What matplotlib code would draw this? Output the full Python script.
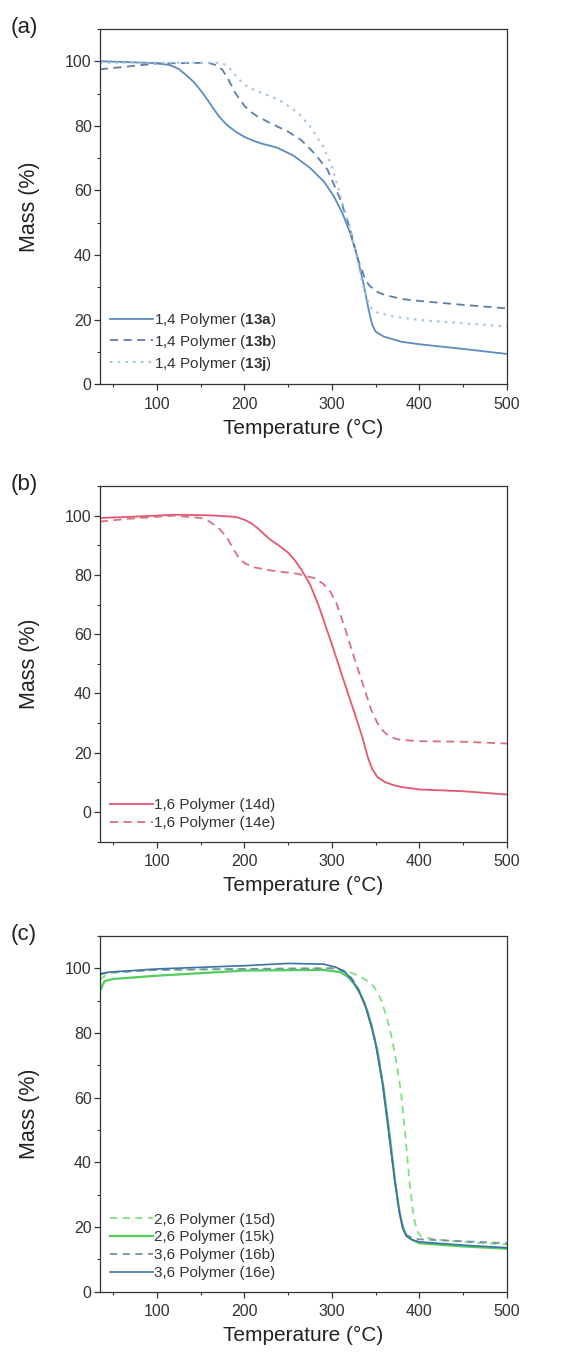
import numpy as np
import matplotlib
matplotlib.use('Agg')
import matplotlib.pyplot as plt
from matplotlib.ticker import MultipleLocator

plt.rcParams['font.family'] = ['Liberation Sans', 'DejaVu Sans']
plt.rcParams['mathtext.fontset'] = 'custom'
plt.rcParams['mathtext.bf'] = 'Liberation Sans:bold'
plt.rcParams['mathtext.rm'] = 'Liberation Sans'

# ---- panel (a): 1,4 polymers ----
t_13a = [35, 60, 100, 115, 125, 134, 142, 150, 158, 165, 172, 180, 190, 200, 210, 220,
         237, 256, 275, 291, 302, 312, 321, 329, 336, 342, 346, 350, 359, 379, 400, 455, 500]
m_13a = [100, 99.8, 99.4, 98.8, 97.6, 95.6, 93.6, 91, 88, 85.2, 82.6, 80.3, 78.2, 76.6,
         75.4, 74.5, 73.3, 70.8, 67, 62.7, 58.3, 53, 46.7, 39.5, 31.3, 23, 18.5, 16.3,
         14.8, 13.2, 12.4, 10.8, 9.4]
t_13b = [35, 60, 100, 150, 160, 168, 175, 182, 190, 200, 208, 215, 230, 250, 265, 280,
         295, 310, 320, 330, 337, 342, 350, 360, 380, 400, 450, 500]
m_13b = [97.5, 98.2, 99.3, 99.5, 99.4, 98.8, 97.3, 94.2, 90, 86.2, 84.2, 82.9, 80.8, 78.2,
         75.6, 71.5, 66.4, 57, 48.8, 38.5, 33.3, 30.8, 28.8, 27.7, 26.4, 25.8, 24.6, 23.5]
t_13j = [35, 100, 170, 177, 183, 190, 197, 205, 220, 240, 255, 265, 275, 290, 300, 310,
         320, 330, 335, 340, 345, 352, 370, 400, 450, 500]
m_13j = [99.5, 99.6, 99.5, 99.1, 97.8, 95.6, 93.5, 91.8, 90.2, 88, 85.3, 83, 79.8, 73.6,
         67.4, 58, 48.8, 37.5, 31, 26.5, 23.5, 22.2, 21, 19.9, 18.9, 17.9]

# ---- panel (b): 1,6 polymers ----
t_14d = [35, 70, 100, 120, 160, 190, 200, 208, 215, 223, 230, 240, 250, 258, 265, 275,
         285, 300, 315, 328, 335, 341, 346, 352, 360, 370, 380, 400, 450, 500]
m_14d = [99.2, 99.6, 100, 100.3, 100.1, 99.6, 98.6, 97.4, 95.8, 93.6, 91.8, 89.8, 87.5,
         84.8, 81.8, 76.8, 69.5, 56.5, 43, 31.5, 25, 18.5, 14.5, 11.8, 10.2, 9.1, 8.4,
         7.6, 7.0, 5.9]
t_14e = [35, 70, 120, 150, 158, 165, 172, 180, 187, 193, 200, 210, 230, 260, 280, 290,
         298, 305, 315, 325, 335, 345, 352, 358, 365, 375, 390, 400, 450, 500]
m_14e = [98, 99, 100, 99.2, 98.4, 97, 95.4, 92.6, 89, 86, 84, 82.6, 81.5, 80.4, 78.9, 77,
         74.4, 70.5, 62, 52.4, 43.4, 34.4, 30, 27.5, 25.6, 24.5, 24.1, 23.9, 23.7, 23.1]

# ---- panel (c): 2,6 and 3,6 polymers ----
t_15d = [35, 45, 100, 200, 300, 315, 330, 340, 348, 355, 362, 368, 374, 379, 384, 389,
         393, 397, 402, 420, 450, 500]
m_15d = [96.5, 98.5, 99.5, 99.8, 100, 99.3, 97.8, 96.2, 94.3, 91, 85.5, 79, 70.5, 61.5,
         48, 33, 24, 18.8, 17, 16.1, 15.4, 14.6]
t_15k = [35, 40, 50, 100, 200, 290, 310, 318, 325, 332, 340, 346, 352, 359, 366, 372,
         377, 381, 385, 392, 400, 450, 500]
m_15k = [93, 96, 96.7, 97.7, 99.3, 99.5, 98.8, 97.4, 95.3, 92.3, 87.3, 81.5, 74.5, 63,
         48.5, 34.5, 25, 20, 17.4, 16, 15, 14.0, 13.3]
t_16b = [35, 45, 100, 200, 300, 310, 317, 324, 331, 338, 345, 351, 358, 365, 372, 377,
         381, 385, 392, 400, 450, 500]
m_16b = [98, 98.8, 99.5, 99.8, 100, 99.6, 98.6, 96.4, 93.2, 88.8, 82.5, 75.5, 64.3, 49.5,
         34, 25, 20, 17.6, 16.6, 16.2, 15.6, 15.0]
t_16e = [35, 45, 100, 200, 250, 290, 305, 315, 322, 330, 338, 345, 350, 358, 365, 372,
         377, 381, 385, 392, 400, 450, 500]
m_16e = [98.3, 98.8, 99.8, 100.8, 101.5, 101.3, 100.3, 98.8, 96.8, 93.5, 88.5, 82, 76.5,
         64, 49, 34, 24.5, 19.5, 17.2, 16, 15.4, 14.4, 13.6]

panels = [
    dict(letter='(a)', ylim=(0, 110), yticks=[0, 20, 40, 60, 80, 100],
         pos=[0.1748, 0.7172, 0.7115, 0.2615],
         series=[(t_13a, m_13a, '1,4 Polymer ($\\mathbf{13a}$)', '#5b8cc2', '-', 1.3),
                 (t_13b, m_13b, '1,4 Polymer ($\\mathbf{13b}$)', '#5a80a8', (0, (4.5, 3)), 1.3),
                 (t_13j, m_13j, '1,4 Polymer ($\\mathbf{13j}$)', '#a6c4e0', (0, (1.2, 2.5)), 1.5)]),
    dict(letter='(b)', ylim=(-10, 110), yticks=[0, 20, 40, 60, 80, 100],
         pos=[0.1748, 0.3807, 0.7115, 0.2617],
         series=[(t_14d, m_14d, '1,6 Polymer (14d)', '#e5576f', '-', 1.3),
                 (t_14e, m_14e, '1,6 Polymer (14e)', '#d9707f', (0, (4.5, 3)), 1.3)]),
    dict(letter='(c)', ylim=(0, 110), yticks=[0, 20, 40, 60, 80, 100],
         pos=[0.1748, 0.0495, 0.7115, 0.2618],
         series=[(t_15d, m_15d, '2,6 Polymer (15d)', '#7fe07f', (0, (4, 3)), 1.3),
                 (t_15k, m_15k, '2,6 Polymer (15k)', '#4fcf5a', '-', 1.6),
                 (t_16b, m_16b, '3,6 Polymer (16b)', '#7890aa', (0, (4, 3)), 1.3),
                 (t_16e, m_16e, '3,6 Polymer (16e)', '#3d72a8', '-', 1.2)]),
]

fig = plt.figure(figsize=(5.72, 13.59), dpi=100)

for p in panels:
    ax = fig.add_axes(p['pos'])
    for t, m, lab, col, ls, lw in p['series']:
        ax.plot(t, m, color=col, linestyle=ls, linewidth=lw, label=lab)
    ax.set_xlim(35, 500)
    ax.set_ylim(*p['ylim'])
    ax.set_xticks([100, 200, 300, 400, 500])
    ax.set_yticks(p['yticks'])
    ax.xaxis.set_minor_locator(MultipleLocator(50))
    ax.yaxis.set_minor_locator(MultipleLocator(10))
    ax.tick_params(which='major', direction='out', length=4, width=0.9,
                   labelsize=11.5, colors='#333333', pad=2)
    ax.tick_params(axis='x', which='major', pad=5)
    ax.tick_params(which='minor', direction='out', length=2.5, width=0.8, colors='#333333')
    for s in ax.spines.values():
        s.set_color('#333333')
        s.set_linewidth(0.9)
    ax.set_xlabel('Temperature (°C)', fontsize=15, color='#222222', labelpad=5)
    ax.set_ylabel('Mass (%)', fontsize=15.5, color='#222222', labelpad=18)
    leg = ax.legend(loc='lower left', bbox_to_anchor=(0.0, 0.005), frameon=False,
                    fontsize=11, handlelength=2.8, handletextpad=0.1,
                    labelspacing=0.25, borderaxespad=0.25)
    for txt in leg.get_texts():
        txt.set_color('#333333')
    fig.text(0.018, p['pos'][1] + p['pos'][3] + 0.001, p['letter'], fontsize=16,
             color='#222222', va='center', ha='left')

fig.savefig('out.png', dpi=100)
